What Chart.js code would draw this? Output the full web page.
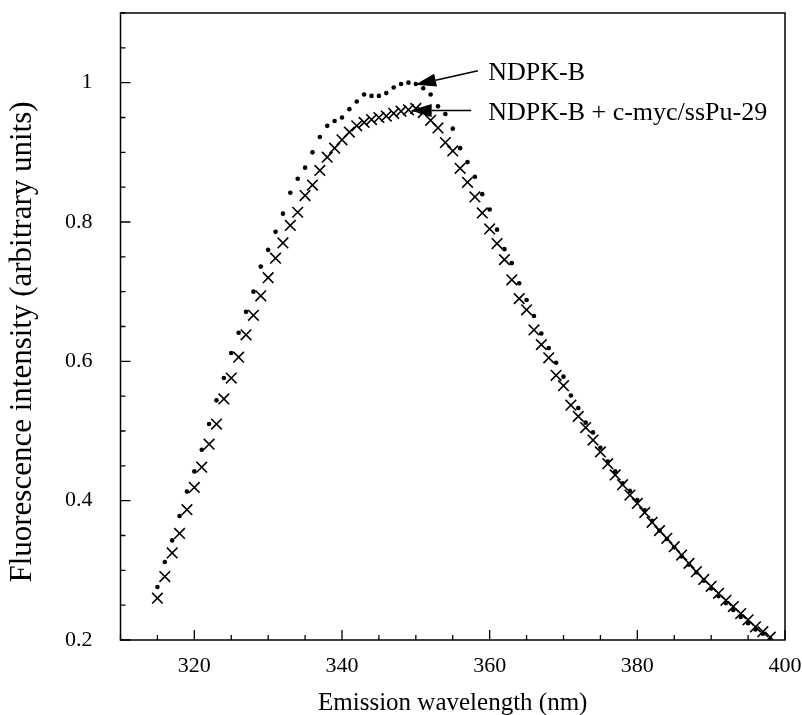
<!DOCTYPE html>
<html>
<head>
<meta charset="utf-8">
<script src="https://cdn.jsdelivr.net/npm/chart.js@4/dist/chart.umd.min.js"></script>
<style>
  html, body { margin: 0; padding: 0; background: #fff; }
  #wrap { width: 802px; height: 715px; position: relative; }
</style>
</head>
<body>
<div id="wrap"><canvas id="spectrum"></canvas></div>
<script>
// emission wavelength (nm), one reading per nm
const wavelengths = [
  315, 316, 317, 318, 319, 320, 321, 322, 323, 324, 325, 326, 327, 328,
  329, 330, 331, 332, 333, 334, 335, 336, 337, 338, 339, 340, 341, 342,
  343, 344, 345, 346, 347, 348, 349, 350, 351, 352, 353, 354, 355, 356,
  357, 358, 359, 360, 361, 362, 363, 364, 365, 366, 367, 368, 369, 370,
  371, 372, 373, 374, 375, 376, 377, 378, 379, 380, 381, 382, 383, 384,
  385, 386, 387, 388, 389, 390, 391, 392, 393, 394, 395, 396, 397, 398
];

// NDPK-B alone (dots)
const ndpkB = [
  0.276, 0.312, 0.343, 0.378, 0.413, 0.442, 0.473, 0.510, 0.544, 0.576, 0.612, 0.641, 0.671, 0.700,
  0.736, 0.760, 0.786, 0.812, 0.842, 0.862, 0.878, 0.900, 0.922, 0.938, 0.945, 0.950, 0.962, 0.973,
  0.983, 0.981, 0.981, 0.985, 0.993, 0.998, 1.000, 0.998, 0.992, 0.983, 0.966, 0.955, 0.934, 0.906,
  0.886, 0.865, 0.840, 0.818, 0.789, 0.761, 0.741, 0.712, 0.688, 0.665, 0.640, 0.619, 0.598, 0.578,
  0.551, 0.533, 0.512, 0.498, 0.476, 0.456, 0.442, 0.425, 0.414, 0.401, 0.386, 0.371, 0.357, 0.345,
  0.333, 0.320, 0.308, 0.297, 0.285, 0.274, 0.263, 0.253, 0.243, 0.233, 0.224, 0.215, 0.209, 0.201
];

// NDPK-B + c-myc/ssPu-29 (crosses)
const ndpkBMyc = [
  0.260, 0.291, 0.325, 0.353, 0.387, 0.419, 0.448, 0.481, 0.510, 0.546, 0.576, 0.606, 0.638, 0.666,
  0.694, 0.720, 0.748, 0.770, 0.795, 0.814, 0.838, 0.853, 0.874, 0.893, 0.906, 0.918, 0.929, 0.938,
  0.943, 0.947, 0.950, 0.952, 0.956, 0.959, 0.961, 0.963, 0.957, 0.946, 0.935, 0.914, 0.902, 0.877,
  0.857, 0.836, 0.813, 0.790, 0.769, 0.746, 0.717, 0.690, 0.674, 0.645, 0.624, 0.605, 0.580, 0.565,
  0.537, 0.521, 0.505, 0.487, 0.470, 0.453, 0.437, 0.423, 0.408, 0.396, 0.383, 0.369, 0.357, 0.346,
  0.334, 0.322, 0.310, 0.298, 0.287, 0.277, 0.267, 0.257, 0.248, 0.238, 0.229, 0.219, 0.212, 0.204
];

const xTickLabels = [320, 340, 360, 380, 400];
const yTickLabels = [0.2, 0.4, 0.6, 0.8, 1];

// arrow labels, anchored in data units
const callouts = [
  { text: 'NDPK-B', tip: [349.9, 0.997], tail: [358.4, 1.017], textAt: [359.8, 1.013] },
  { text: 'NDPK-B + c-myc/ssPu-29', tip: [349.3, 0.960], tail: [357.5, 0.960], textAt: [359.8, 0.956] }
];

const serif = '"Liberation Serif", "Times New Roman", serif';

function toPoints(ys) {
  return wavelengths.map((w, i) => ({ x: w, y: ys[i] }));
}

function isLabelled(list, v) {
  return list.some(t => Math.abs(t - v) < 1e-6);
}

// box around the plot + tick marks pointing inward
const frameTicks = {
  id: 'frameTicks',
  afterDatasetsDraw(chart) {
    const { ctx, chartArea: a, scales: { x, y } } = chart;
    ctx.save();
    ctx.strokeStyle = '#000';
    ctx.lineWidth = 1.5;
    ctx.strokeRect(a.left, a.top, a.right - a.left, a.bottom - a.top);
    ctx.lineWidth = 1.3;
    ctx.beginPath();
    x.ticks.forEach(t => {
      const px = x.getPixelForValue(t.value);
      const len = isLabelled(xTickLabels, t.value) ? 10 : 5;
      ctx.moveTo(px, a.bottom);
      ctx.lineTo(px, a.bottom - len);
    });
    y.ticks.forEach(t => {
      const py = y.getPixelForValue(t.value);
      const len = isLabelled(yTickLabels, t.value) ? 10 : 5;
      ctx.moveTo(a.left, py);
      ctx.lineTo(a.left + len, py);
    });
    ctx.stroke();

    // callout arrows and their text
    callouts.forEach(c => {
      const tx = x.getPixelForValue(c.tip[0]), ty = y.getPixelForValue(c.tip[1]);
      const sx = x.getPixelForValue(c.tail[0]), sy = y.getPixelForValue(c.tail[1]);
      const ang = Math.atan2(ty - sy, tx - sx);
      const headLen = 21, headHalf = 6.5;
      const bx = tx - Math.cos(ang) * headLen, by = ty - Math.sin(ang) * headLen;
      ctx.lineWidth = 1.6;
      ctx.beginPath();
      ctx.moveTo(sx, sy);
      ctx.lineTo(bx, by);
      ctx.stroke();
      ctx.beginPath();
      ctx.moveTo(tx, ty);
      ctx.lineTo(bx + Math.sin(ang) * headHalf, by - Math.cos(ang) * headHalf);
      ctx.lineTo(bx - Math.sin(ang) * headHalf, by + Math.cos(ang) * headHalf);
      ctx.closePath();
      ctx.fillStyle = '#000';
      ctx.fill();

      ctx.font = '26px ' + serif;
      ctx.textAlign = 'left';
      ctx.textBaseline = 'middle';
      ctx.fillText(c.text, x.getPixelForValue(c.textAt[0]), y.getPixelForValue(c.textAt[1]));
    });
    ctx.restore();
  }
};

new Chart(document.getElementById('spectrum'), {
  type: 'scatter',
  data: {
    datasets: [{
      label: 'NDPK-B',
      data: toPoints(ndpkB),
      pointStyle: 'circle',
      pointRadius: 2.3,
      backgroundColor: '#000',
      borderColor: '#000',
      borderWidth: 0
    }, {
      label: 'NDPK-B + c-myc/ssPu-29',
      data: toPoints(ndpkBMyc),
      pointStyle: 'crossRot',
      pointRadius: 7.5,
      borderColor: '#000',
      borderWidth: 1.6
    }]
  },
  options: {
    responsive: true,
    maintainAspectRatio: false,
    animation: false,
    layout: { padding: { top: 13, right: 17, left: 0, bottom: 0 } },
    plugins: { legend: { display: false }, tooltip: { enabled: false } },
    scales: {
      x: {
        type: 'linear',
        min: 310,
        max: 400,
        grid: { display: false },
        border: { display: false },
        ticks: {
          stepSize: 5,
          autoSkip: false,
          maxRotation: 0,
          padding: 5,
          color: '#000',
          font: { family: serif, size: 22 },
          callback: v => isLabelled(xTickLabels, v) ? String(v) : ''
        },
        title: {
          display: true,
          text: 'Emission wavelength (nm)',
          color: '#000',
          font: { family: serif, size: 25, lineHeight: 1 },
          padding: { top: 0, bottom: -1 }
        },
        afterFit: s => {
          s.height = 75;
          s.paddingLeft = 0;
          s.paddingRight = 0;
        }
      },
      y: {
        type: 'linear',
        min: 0.2,
        max: 1.1,
        grid: { display: false },
        border: { display: false },
        ticks: {
          stepSize: 0.05,
          includeBounds: false,
          autoSkip: false,
          padding: 20,
          color: '#000',
          font: { family: serif, size: 22 },
          callback: v => isLabelled(yTickLabels, v) ? String(Math.round(v * 10) / 10) : ''
        },
        title: {
          display: true,
          // trailing spaces nudge the centred title toward the bottom, as in the original
          text: 'Fluorescence intensity (arbitrary units)    ',
          color: '#000',
          font: { family: serif, size: 31, lineHeight: 1 },
          padding: { top: 7, bottom: 0 }
        },
        afterFit: s => {
          s.width = 120.5;
          s.paddingTop = 0;
          s.paddingBottom = 0;
        }
      }
    }
  },
  plugins: [frameTicks]
});
</script>
</body>
</html>
